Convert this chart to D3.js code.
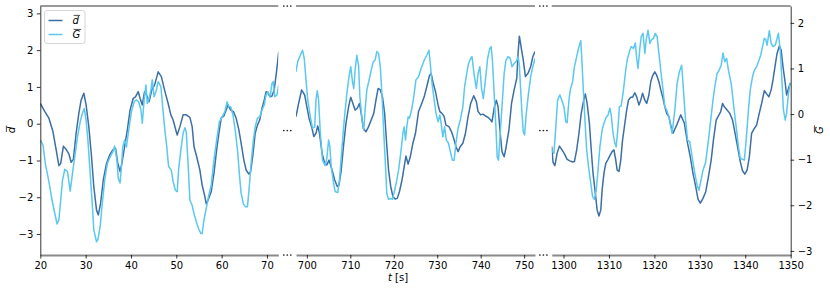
<!DOCTYPE html>
<html>
<head>
<meta charset="utf-8">
<script src="https://cdn.jsdelivr.net/npm/d3@7"></script>
<style>
body { margin: 0; background: #fff; }
text { font-family: "DejaVu Sans", sans-serif; }
</style>
</head>
<body>
<svg id="chart" width="830" height="289"></svg>
<script>
// d-bar samples (left axis)
var dT = [20.0,21.0,21.9,22.8,23.5,24.1,24.5,25.1,25.7,26.3,26.8,27.3,27.9,28.5,29.0,29.6,30.1,30.7,31.3,31.8,32.4,32.8,33.3,33.9,34.6,35.3,36.0,36.6,37.1,37.6,38.0,38.6,39.2,39.8,40.5,41.0,41.6,42.0,42.5,43.0,43.6,44.0,44.6,45.2,46.0,46.7,47.4,48.2,48.8,49.3,49.8,50.2,50.8,51.5,52.2,53.0,53.5,53.9,54.5,55.2,55.7,56.3,56.6,57.1,57.7,58.3,58.9,59.4,59.9,60.5,61.0,61.4,62.0,62.6,63.2,63.8,64.3,64.9,65.4,66.0,66.4,66.9,67.4,67.9,68.4,68.9,69.4,69.8,70.2,70.7,71.1,71.6,72.1,72.6,
    697.5,698.1,698.8,699.5,700.0,700.5,701.2,701.6,702.1,702.5,702.9,703.5,704.1,704.6,705.1,705.8,706.4,707.0,707.4,707.9,708.5,709.0,709.6,710.1,710.6,711.1,711.6,712.1,712.5,713.0,713.6,714.2,714.8,715.4,715.9,716.4,716.9,717.4,717.9,718.3,718.8,719.3,719.8,720.3,720.8,721.3,721.9,722.4,722.8,723.3,723.8,724.4,725.0,725.7,726.3,727.0,727.6,728.2,728.6,729.0,729.6,730.2,730.6,731.1,731.6,732.0,732.7,733.3,733.8,734.3,734.8,735.3,735.9,736.5,737.1,737.7,738.4,739.0,739.4,740.0,740.5,741.1,741.7,742.3,742.6,743.1,743.6,744.0,744.5,744.9,745.4,745.8,746.5,747.1,747.7,748.3,748.6,748.9,749.3,749.8,750.3,750.9,751.5,752.0,752.5,
    1297.4,1297.7,1298.1,1298.6,1299.1,1299.6,1300.2,1300.8,1301.4,1302.0,1302.4,1302.9,1303.4,1303.9,1304.3,1304.8,1305.2,1305.7,1306.1,1306.5,1307.0,1307.4,1307.8,1308.2,1308.5,1308.9,1309.3,1309.8,1310.3,1310.7,1311.1,1311.5,1311.8,1312.2,1312.6,1313.0,1313.5,1313.9,1314.3,1314.8,1315.2,1315.7,1316.1,1316.6,1317.0,1317.4,1317.9,1318.3,1318.8,1319.2,1319.6,1320.1,1320.5,1321.0,1321.4,1321.9,1322.3,1322.7,1323.2,1323.6,1324.1,1324.9,1325.8,1326.6,1327.3,1327.9,1328.5,1329.1,1329.6,1330.1,1330.7,1331.3,1331.9,1332.5,1333.0,1333.6,1334.1,1334.6,1335.0,1335.4,1336.0,1336.6,1337.2,1337.7,1338.3,1338.9,1339.4,1339.9,1340.4,1340.9,1341.4,1342.0,1342.5,1343.0,1343.6,1344.2,1344.7,1345.2,1345.7,1346.1,1346.6,1347.0,1347.5,1347.9,1348.3,1348.8,1349.1,1349.5,1349.9];
var dV = [0.55,0.33,0.15,-0.22,-0.71,-1.14,-1.08,-0.61,-0.70,-0.82,-1.05,-0.97,-0.26,0.28,0.64,0.83,0.51,-0.08,-0.90,-1.71,-2.35,-2.48,-2.16,-1.53,-1.08,-0.85,-0.71,-0.67,-1.08,-1.30,-1.08,-0.62,-0.17,0.37,0.69,0.73,0.87,0.69,0.51,0.87,0.73,0.60,0.92,1.05,1.41,1.28,0.92,0.55,0.24,0.10,-0.13,-0.31,-0.08,0.24,0.24,0.17,-0.08,-0.62,-0.90,-1.26,-1.67,-1.98,-2.18,-2.05,-1.85,-1.35,-0.71,-0.26,0.15,0.21,0.37,0.51,0.37,0.33,0.15,-0.17,-0.53,-0.99,-1.26,-1.37,-1.30,-0.85,-0.26,-0.04,0.10,0.42,0.64,0.87,0.83,0.73,0.75,0.92,1.41,1.96,
    0.19,0.55,0.92,0.78,0.46,0.15,-0.13,-0.35,-0.26,-0.06,-0.26,-0.80,-1.08,-1.12,-0.99,-1.26,-1.53,-1.71,-1.67,-1.26,-0.53,0.01,0.46,0.72,0.55,0.37,0.42,0.55,0.28,-0.13,-0.22,-0.08,0.10,0.28,0.64,0.96,0.92,0.73,0.28,-0.44,-1.26,-1.71,-1.98,-2.05,-2.03,-1.85,-1.53,-1.17,-0.88,-1.10,-0.90,-0.53,-0.26,0.33,0.51,0.73,1.01,1.30,1.37,1.14,0.87,0.51,0.33,0.28,0.19,-0.04,-0.08,-0.22,-0.40,-0.62,-0.76,-0.62,-0.53,-0.26,0.19,0.55,0.76,0.60,0.33,0.24,0.26,0.21,0.17,0.10,0.05,0.42,0.64,0.46,-0.26,-0.76,-0.90,-0.67,-0.17,0.55,0.92,1.23,1.91,2.38,2.09,1.73,1.28,1.37,1.55,1.82,1.96,
    -0.62,-1.05,-1.14,-0.80,-0.61,-0.70,-0.82,-0.97,-1.01,-1.04,-1.03,-0.71,-0.26,0.28,0.55,0.81,0.55,0.01,-0.71,-1.35,-1.89,-2.35,-2.51,-2.35,-1.80,-1.35,-1.08,-0.97,-0.85,-0.76,-0.71,-0.99,-1.26,-1.30,-0.99,-0.44,0.01,0.37,0.64,0.72,0.72,0.84,0.73,0.51,0.64,0.83,0.64,0.55,0.78,1.14,1.30,1.41,1.32,1.14,0.92,0.69,0.46,0.28,0.19,-0.04,-0.26,-0.04,0.24,0.01,-0.53,-0.90,-1.35,-1.71,-2.05,-2.16,-2.03,-1.85,-1.44,-0.99,-0.44,0.10,0.21,0.33,0.55,0.46,0.37,0.28,0.10,-0.22,-0.62,-1.03,-1.28,-1.37,-1.26,-0.90,-0.26,-0.13,-0.04,0.24,0.55,0.90,0.81,0.73,0.92,1.19,1.60,1.91,2.11,2.00,1.55,1.10,0.78,0.96,1.10];

// G-bar samples (right axis)
var gT = [20.0,20.6,21.1,21.9,22.6,23.2,23.7,24.1,24.5,24.9,25.4,26.0,26.3,26.6,27.1,27.6,28.2,28.8,29.3,29.7,30.1,30.5,31.0,31.5,31.8,32.4,32.7,33.2,33.6,34.2,34.8,35.4,36.0,36.4,36.9,37.2,37.6,37.9,38.2,38.6,39.0,39.5,40.1,40.7,41.2,41.7,42.2,42.5,42.9,43.3,43.6,44.0,44.4,44.7,45.1,45.5,46.0,46.6,47.0,47.4,47.9,48.3,48.9,49.3,49.8,50.2,50.5,51.0,51.5,51.9,52.2,52.6,53.0,53.5,53.9,54.4,54.9,55.4,55.7,56.1,56.6,57.1,57.7,58.3,58.9,59.5,60.1,60.7,61.2,61.6,62.0,62.5,63.0,63.5,63.9,64.3,64.8,65.2,65.7,66.1,66.5,67.0,67.4,67.9,68.4,68.9,69.4,69.8,70.2,70.7,71.1,71.4,71.7,72.2,72.6,
    697.5,697.9,698.5,699.0,699.4,699.8,700.2,700.8,701.3,701.8,702.1,702.4,702.7,703.1,703.6,704.2,704.6,705.0,705.3,705.6,706.1,706.5,707.1,707.5,708.1,708.6,709.2,709.7,710.1,710.5,710.8,711.1,711.5,711.9,712.2,712.7,713.1,713.4,713.8,714.4,714.8,715.3,715.7,716.1,716.5,716.9,717.3,717.7,718.1,718.4,718.8,719.3,719.7,720.2,720.7,721.1,721.6,722.1,722.4,722.7,723.0,723.3,723.6,724.1,724.6,725.1,725.7,726.3,727.0,727.6,728.1,728.4,728.8,729.3,729.7,730.2,730.6,730.9,731.3,731.7,732.1,732.6,733.1,733.5,733.9,734.3,734.8,735.3,735.9,736.3,736.8,737.2,737.7,738.0,738.5,739.0,739.4,739.8,740.2,740.6,741.1,741.6,742.1,742.4,742.7,743.1,743.5,743.8,744.1,744.4,744.9,745.4,745.8,746.3,746.8,747.2,747.7,748.2,748.6,748.9,749.2,749.5,749.8,750.1,750.5,751.0,751.5,752.0,752.5,
    1297.4,1297.9,1298.3,1298.7,1299.2,1299.6,1300.1,1300.5,1300.8,1301.2,1301.5,1302.0,1302.4,1302.9,1303.3,1303.8,1304.0,1304.4,1304.8,1305.1,1305.5,1306.0,1306.4,1306.8,1307.2,1307.6,1308.0,1308.5,1308.9,1309.3,1309.8,1310.2,1310.5,1310.9,1311.3,1311.6,1312.0,1312.3,1312.7,1313.2,1313.6,1314.0,1314.5,1314.9,1315.4,1315.8,1316.1,1316.4,1316.8,1317.1,1317.5,1317.9,1318.2,1318.6,1319.0,1319.3,1319.8,1320.2,1320.6,1321.0,1321.4,1321.9,1322.3,1322.7,1323.2,1323.6,1323.9,1324.5,1325.0,1325.5,1326.0,1326.3,1326.8,1327.3,1327.8,1328.3,1328.9,1329.4,1329.8,1330.2,1330.7,1331.3,1331.9,1332.4,1332.9,1333.3,1333.8,1334.2,1334.7,1335.1,1335.5,1335.9,1336.3,1336.9,1337.4,1338.0,1338.5,1338.9,1339.4,1339.8,1340.2,1340.7,1341.1,1341.6,1342.0,1342.5,1342.9,1343.4,1343.8,1344.2,1344.5,1344.8,1345.1,1345.3,1345.7,1346.1,1346.6,1347.0,1347.3,1347.7,1348.1,1348.4,1348.8,1349.1,1349.5,1349.9];
var gV = [-0.57,-0.68,-1.08,-1.48,-1.89,-2.18,-2.41,-2.32,-1.89,-1.45,-1.21,-1.26,-1.48,-1.69,-1.30,-0.94,-0.50,-0.17,0.02,0.12,-0.13,-0.57,-1.30,-2.03,-2.54,-2.80,-2.75,-2.47,-2.03,-1.45,-1.08,-0.94,-0.83,-0.70,-1.01,-1.41,-1.51,-1.15,-0.72,-0.57,-0.72,-0.35,0.05,0.27,0.31,0.27,0.09,-0.20,0.31,0.64,0.23,0.34,0.53,0.75,0.38,0.49,0.71,0.60,0.16,-0.28,-0.72,-1.15,-1.23,-1.48,-1.67,-1.70,-1.23,-0.79,-0.42,-0.30,-0.39,-1.08,-1.89,-2.00,-2.18,-2.36,-2.51,-2.62,-2.62,-2.32,-2.07,-1.81,-1.56,-1.01,-0.57,-0.17,-0.06,0.05,0.27,0.16,0.16,-0.02,-0.35,-0.79,-1.30,-1.74,-1.97,-2.03,-2.03,-1.59,-1.08,-0.57,-0.28,-0.09,-0.06,0.09,0.20,0.42,0.49,0.38,0.67,0.71,0.38,0.42,0.64,
    0.93,1.15,1.29,1.40,1.22,0.75,0.31,-0.06,-0.31,-0.28,0.31,0.51,0.31,-0.42,-1.01,-1.13,-0.97,-0.57,-0.72,-1.15,-1.48,-1.70,-1.72,-1.45,-0.72,-0.13,0.45,0.82,1.04,0.71,0.56,0.96,1.29,1.07,0.38,-0.13,-0.35,0.09,0.53,0.78,0.96,1.15,1.18,1.37,1.33,1.04,0.38,-0.42,-1.15,-1.74,-1.87,-1.85,-1.87,-1.67,-1.45,-1.23,-0.86,-0.42,-0.28,-0.57,-0.28,-0.06,-0.09,0.09,0.38,0.75,0.82,1.00,1.18,1.29,1.40,1.11,0.67,0.31,0.02,-0.17,-0.02,-0.20,-0.50,-0.28,-0.57,-0.64,-0.86,-1.01,-1.01,-0.64,-0.31,-0.13,0.16,0.60,0.89,1.11,1.22,1.26,0.86,0.56,0.89,1.04,0.56,0.34,0.75,1.22,1.44,1.48,1.18,0.45,-0.28,-0.94,-1.01,-0.57,0.16,0.89,1.18,1.26,1.22,1.04,1.11,1.16,1.26,1.07,0.53,0.02,-0.39,-0.46,0.02,0.45,0.82,1.04,1.22,
    -0.79,-0.86,-0.28,0.31,0.42,0.31,0.16,-0.17,-0.19,0.31,0.53,0.71,1.04,1.26,1.44,1.61,1.26,0.45,-0.28,-0.79,-1.15,-1.52,-1.81,-1.87,-1.67,-1.23,-0.72,-0.35,-0.20,-0.09,-0.02,0.13,-0.02,-0.42,-0.64,-0.72,-0.28,0.16,0.18,0.53,0.89,1.18,1.37,1.48,1.44,1.56,1.22,1.00,1.44,1.70,1.77,1.33,1.62,1.84,1.55,1.62,1.66,1.77,1.70,1.33,0.96,0.53,0.16,0.09,-0.06,-0.28,-0.42,0.09,0.67,0.93,1.07,0.67,-0.06,-0.57,-0.61,-0.94,-1.30,-1.56,-1.67,-1.48,-1.23,-1.05,-0.57,-0.13,0.31,0.60,0.89,0.95,1.07,1.34,1.15,1.22,0.96,0.67,0.23,-0.28,-0.72,-0.97,-0.99,-1.01,-0.57,0.09,0.53,0.82,0.96,1.04,1.15,1.29,1.48,1.66,1.64,1.51,1.70,1.83,1.55,1.48,1.51,1.66,1.77,1.40,0.67,0.09,-0.13,0.02,0.45,0.69];

// broken x axis: three windows
var panelDomains = [[20, 72.5], [697.5, 752.5], [1297.4, 1350]],
    panelTicks = [[20, 30, 40, 50, 60, 70], [700, 710, 720, 730, 740, 750], [1300, 1310, 1320, 1330, 1340, 1350]],
    dTicks = [-3, -2, -1, 0, 1, 2, 3],
    gTicks = [-3, -2, -1, 0, 1, 2],
    dDomain = [-3.57, 3.2],
    gDomain = [-3.09, 2.37];

var panelX = [[40.3, 278.3], [296, 535], [551.7, 790.7]],
    plotTop = 6, plotBottom = 255,
    darkBlue = "#3b6fa6", lightBlue = "#5bc8ef",
    intFmt = d3.format("d");

var svg = d3.select("#chart");

var yD = d3.scaleLinear().domain(dDomain).range([plotBottom, plotTop]),
    yG = d3.scaleLinear().domain(gDomain).range([plotBottom, plotTop]);

var dPts = dT.map(function(t, i) { return {t: t, v: dV[i]}; }),
    gPts = gT.map(function(t, i) { return {t: t, v: gV[i]}; });

function styleAxis(a, domainColor, domainWidth) {
  a.select(".domain").attr("stroke", domainColor).attr("stroke-width", domainWidth);
  a.selectAll(".tick line").attr("stroke", "#000").attr("stroke-width", 0.8);
  a.selectAll(".tick text").attr("fill", "#000").style("font-size", "10px").style("font-family", "DejaVu Sans");
}

panelDomains.forEach(function(dom, p) {
  var x = d3.scaleLinear().domain(dom).range(panelX[p]);
  var inside = function(d) { return d.t >= dom[0] - 1 && d.t <= dom[1] + 1; };

  svg.append("clipPath").attr("id", "clip" + p)
    .append("rect")
      .attr("x", panelX[p][0]).attr("y", plotTop)
      .attr("width", panelX[p][1] - panelX[p][0])
      .attr("height", plotBottom - plotTop);

  var g = svg.append("g").attr("clip-path", "url(#clip" + p + ")");

  g.append("path")
    .datum(dPts.filter(inside))
    .attr("fill", "none")
    .attr("stroke", darkBlue)
    .attr("stroke-width", 1.5)
    .attr("stroke-linejoin", "round")
    .attr("d", d3.line().x(function(d) { return x(d.t); }).y(function(d) { return yD(d.v); }));

  g.append("path")
    .datum(gPts.filter(inside))
    .attr("fill", "none")
    .attr("stroke", lightBlue)
    .attr("stroke-width", 1.5)
    .attr("stroke-linejoin", "round")
    .attr("d", d3.line().x(function(d) { return x(d.t); }).y(function(d) { return yG(d.v); }));

  // bottom axis (grey spine)
  var ax = svg.append("g")
    .attr("transform", "translate(0," + plotBottom + ")")
    .call(d3.axisBottom(x).tickValues(panelTicks[p]).tickFormat(intFmt)
      .tickSize(3.5).tickPadding(3.5).tickSizeOuter(0));
  styleAxis(ax, "#8a8a8a", 2.2);

  // top spine
  svg.append("line")
    .attr("x1", panelX[p][0]).attr("x2", panelX[p][1])
    .attr("y1", plotTop).attr("y2", plotTop)
    .attr("stroke", "#000").attr("stroke-width", 0.8);
});

// left axis
var la = svg.append("g")
  .attr("transform", "translate(" + panelX[0][0] + ",0)")
  .call(d3.axisLeft(yD).tickValues(dTicks).tickFormat(intFmt).tickSize(3.5).tickPadding(3.5).tickSizeOuter(0));
styleAxis(la, "#000", 0.8);

// right axis
var ra = svg.append("g")
  .attr("transform", "translate(" + panelX[2][1] + ",0)")
  .call(d3.axisRight(yG).tickValues(gTicks).tickFormat(intFmt).tickSize(3.5).tickPadding(3.5).tickSizeOuter(0));
styleAxis(ra, "#000", 0.8);

// break markers
var breakX = [287.3, 543.4],
    breakY = [plotTop, (plotTop + plotBottom) / 2, plotBottom];
breakX.forEach(function(bx) {
  breakY.forEach(function(by) {
    svg.append("rect").attr("x", bx - 6).attr("y", by - 2).attr("width", 12).attr("height", 4).attr("fill", "#fff");
    [-3.5, 0, 3.5].forEach(function(o) {
      svg.append("circle").attr("cx", bx + o).attr("cy", by).attr("r", 0.85).attr("fill", "#222");
    });
  });
});

// italic letter with an overline
function overText(g, x, y, ch, anchor) {
  var t = g.append("text")
    .attr("x", x).attr("y", y)
    .attr("text-anchor", anchor || "start")
    .style("font-style", "italic")
    .style("font-size", "10px")
    .attr("fill", "#000")
    .text(ch);
  var b = t.node().getBBox();
  g.append("line")
    .attr("x1", b.x + 1.2).attr("x2", b.x + b.width + 0.6)
    .attr("y1", y - 8.6).attr("y2", y - 8.6)
    .attr("stroke", "#000").attr("stroke-width", 0.7);
}

// axis titles
overText(svg.append("g").attr("transform", "translate(15,130) rotate(-90)"), 0, 0, "d", "middle");
overText(svg.append("g").attr("transform", "translate(823,130) rotate(-90)"), 0, 0, "G", "middle");

var xl = svg.append("text")
  .attr("x", 398).attr("y", 281)
  .attr("text-anchor", "middle")
  .style("font-size", "10px")
  .attr("fill", "#000");
xl.append("tspan").style("font-style", "italic").text("t");
xl.append("tspan").text(" [s]");

// legend
var legend = svg.append("g");
legend.append("rect")
  .attr("x", 44.5).attr("y", 10.5).attr("width", 40.5).attr("height", 33)
  .attr("rx", 2.5)
  .attr("fill", "#fff").attr("fill-opacity", 0.8)
  .attr("stroke", "#cccccc").attr("stroke-width", 0.8);
[[darkBlue, "d", 20.5], [lightBlue, "G", 34.5]].forEach(function(e) {
  legend.append("line")
    .attr("x1", 48.5).attr("x2", 62.5)
    .attr("y1", e[2]).attr("y2", e[2])
    .attr("stroke", e[0]).attr("stroke-width", 1.5);
  overText(legend, 72.5, e[2] + 3.5, e[1], "start");
});
</script>
</body>
</html>
